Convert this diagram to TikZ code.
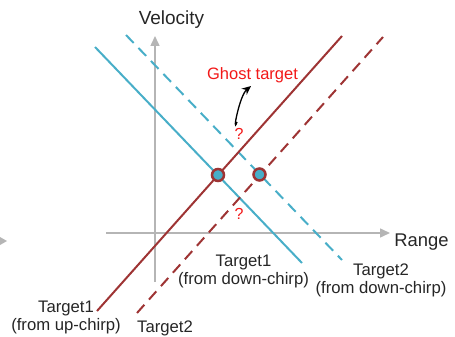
\documentclass[tikz,border=0pt]{standalone}
\usepackage{fontspec}
\setmainfont{Liberation Sans}
\usetikzlibrary{arrows.meta}
\definecolor{cred}{HTML}{9E3434}
\definecolor{cblue}{HTML}{48AEC8}
\definecolor{caxis}{HTML}{B5B5B5}
\definecolor{qred}{HTML}{F21818}
\begin{document}
\begin{tikzpicture}[x=1pt,y=-1pt,
  axisline/.style={caxis,line width=1.5pt,-{Triangle[length=10pt,width=9pt]}},
  redline/.style={cred,line width=2pt},
  blueline/.style={cblue,line width=2pt},
  dashline/.style={dash pattern=on 11pt off 7pt},
  lbl/.style={font=\fontsize{16.7}{18}\selectfont,text=black!85,align=center,inner sep=0pt},
  bigl/.style={text=black!85,inner sep=0pt},
  qmark/.style={font=\fontsize{16}{18}\selectfont,text=qred,inner sep=0pt},
  hit/.style={circle,draw=cred,line width=2.5pt,fill=cblue,minimum size=12pt,inner sep=0pt}]
\useasboundingbox (0,0) rectangle (455,337);
% cut-off arrow head at left edge
\fill[caxis] (0,237) -- (7,241) -- (0,245) -- cycle;
% axes
\coordinate (hx0) at (106,233);
\coordinate (hx1) at (390,233);
\coordinate (vy0) at (155,282);
\coordinate (vy1) at (155,36);
\draw[axisline] (hx0) -- (hx1);
\draw[axisline] (vy0) -- (vy1);
% lines
\coordinate (r1a) at (97,311);
\coordinate (r1b) at (342,36);
\coordinate (r2a) at (137,313);
\coordinate (r2b) at (383,37);
\coordinate (b1a) at (95,47);
\coordinate (b1b) at (302,263);
\coordinate (b2a) at (126,35);
\coordinate (b2b) at (342,260);
\draw[blueline] (b1a) -- (b1b);
\draw[blueline,dashline] (b2a) -- (b2b);
\draw[redline] (r1a) -- (r1b);
\draw[redline,dashline] (r2a) -- (r2b);
% intersections
\node[hit] (h1) at (218,175) {};
\node[hit] (h2) at (259.5,174.5) {};
% question marks
\node[qmark] (q1) at (239,134) {?};
\node[qmark] (q2) at (239,214) {?};
% ghost target
\node[font=\fontsize{16.5}{18}\selectfont,text=qred,inner sep=0pt] (ghost) at (252.5,75) {Ghost target};
\coordinate (ga) at (237,122);
\coordinate (gb) at (251,86);
\draw[black,line width=1.3pt,-{Stealth[length=9pt,width=8pt]}] (ga) to[out=-110,in=-140] (gb);
% labels
\node[bigl,font=\fontsize{19}{21}\selectfont] (vel) at (171.5,20) {Velocity};
\node[bigl,font=\fontsize{18.4}{20}\selectfont] (rng) at (421.5,242) {Range};
\node[lbl] (t1d) at (243.5,271) {Target1\\(from down-chirp)};
\node[lbl] (t2d) at (381,280) {Target2\\(from down-chirp)};
\node[lbl] (t1u) at (66,317.5) {Target1\\(from up-chirp)};
\node[lbl] (t2u) at (165,328) {Target2};
\end{tikzpicture}
\end{document}
